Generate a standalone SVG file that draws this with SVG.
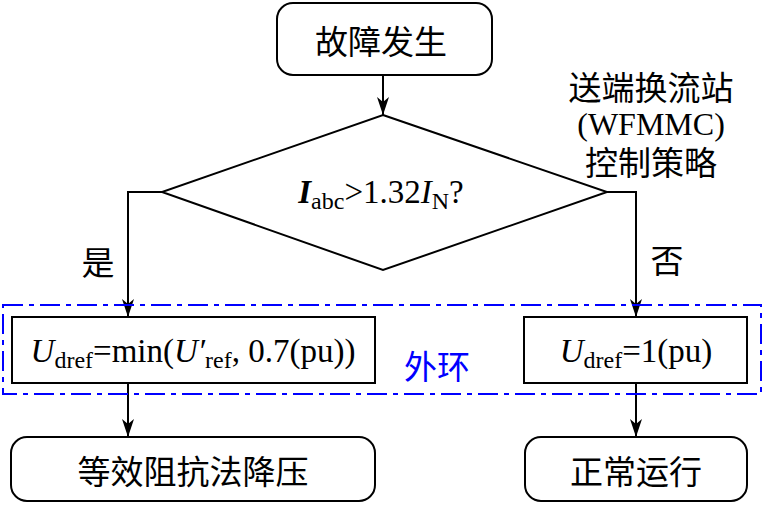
<svg xmlns="http://www.w3.org/2000/svg" width="766" height="509" viewBox="0 0 766 509">
<defs>
<marker id="arr" markerWidth="18" markerHeight="12" refX="18" refY="6" orient="auto" markerUnits="userSpaceOnUse" viewBox="0 0 18 12">
<path d="M0,0 L18,6 L0,12 L5,6 Z" fill="#000"/>
</marker>
<style>
.box{fill:#fff;stroke:#000;stroke-width:2}
.ln{fill:none;stroke:#000;stroke-width:2}
.cn{font-family:"Noto Sans CJK SC",sans-serif;font-size:33px;fill:#000}
.tm{font-family:"Liberation Serif","Noto Sans CJK SC",serif;font-size:33px;fill:#000}
.sub{font-size:24px}
</style>
</defs>
<g id="connectors">
<path class="ln" d="M383,75 V115" marker-end="url(#arr)"/>
<path class="ln" d="M162,192 H128 V317" marker-end="url(#arr)"/>
<path class="ln" d="M607,192 H636 V317" marker-end="url(#arr)"/>
<path class="ln" d="M128,383 V437" marker-end="url(#arr)"/>
<path class="ln" d="M636,383 V437" marker-end="url(#arr)"/>
</g>
<g id="outer-loop">
<rect x="3" y="305" width="758" height="89" fill="none" stroke="#0000ff" stroke-width="2" stroke-dasharray="20 6 5 6"/>
<text x="437" y="379" text-anchor="middle" class="cn" style="fill:#0000ff">外环</text>
</g>
<g id="start">
<rect class="box" x="277" y="3" width="215" height="72" rx="16"/>
<text x="381" y="54" text-anchor="middle" class="cn">故障发生</text>
</g>
<g id="decision">
<polygon class="box" points="383,115 607,192 383,270 162,192"/>
<text x="381" y="203" text-anchor="middle" class="tm"><tspan font-weight="bold" font-style="italic">I</tspan><tspan class="sub" dy="6">abc</tspan><tspan dy="-6">&gt;1.32</tspan><tspan font-style="italic">I</tspan><tspan class="sub" dy="6">N</tspan><tspan dy="-6">?</tspan></text>
</g>
<g id="note">
<text text-anchor="middle" class="cn"><tspan x="651" y="100">送端换流站</tspan><tspan x="651" y="135" font-family="Liberation Serif, serif" font-size="32">(WFMMC)</tspan><tspan x="651" y="175">控制策略</tspan></text>
</g>
<g id="yes-label"><text x="98" y="275" text-anchor="middle" class="cn">是</text></g>
<g id="no-label"><text x="667" y="273" text-anchor="middle" class="cn">否</text></g>
<g id="box-min">
<rect class="box" x="12" y="317" width="363" height="66"/>
<text x="193" y="362" text-anchor="middle" class="tm"><tspan font-style="italic">U</tspan><tspan class="sub" dy="6">dref</tspan><tspan dy="-6">=min(</tspan><tspan font-style="italic">U′</tspan><tspan class="sub" dy="6">ref</tspan><tspan dy="-6">, 0.7(pu))</tspan></text>
</g>
<g id="box-one">
<rect class="box" x="524" y="317" width="223" height="66"/>
<text x="636" y="362" text-anchor="middle" class="tm"><tspan font-style="italic">U</tspan><tspan class="sub" dy="6">dref</tspan><tspan dy="-6">=1(pu)</tspan></text>
</g>
<g id="end-left">
<rect class="box" x="11" y="437" width="364" height="64" rx="16"/>
<text x="193" y="484" text-anchor="middle" class="cn">等效阻抗法降压</text>
</g>
<g id="end-right">
<rect class="box" x="525" y="437" width="222" height="64" rx="16"/>
<text x="636" y="484" text-anchor="middle" class="cn">正常运行</text>
</g>
</svg>
